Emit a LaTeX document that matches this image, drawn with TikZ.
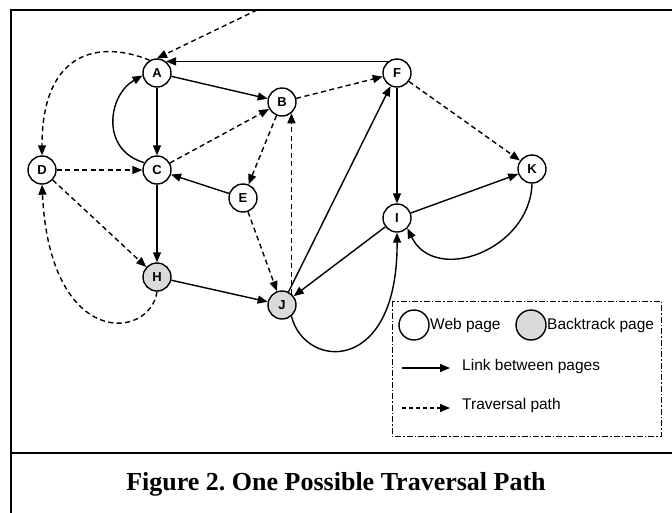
\documentclass[tikz,border=0pt]{standalone}
\usepackage{fontspec}
\setmainfont{Liberation Serif}
\setsansfont{Liberation Sans}
\usetikzlibrary{arrows.meta}
\definecolor{backfill}{RGB}{218,218,218}
\frenchspacing
\tikzset{
  page/.style={circle, draw=black, line width=1.4pt, fill=white, minimum size=28pt,
    inner sep=0pt, font=\sffamily\bfseries\fontsize{13}{13}\selectfont},
  backpage/.style={page, fill=backfill},
  link/.style={line width=1.4pt, -{Triangle[length=10pt,width=8pt]}},
  trav/.style={line width=1.4pt, dash pattern=on 5pt off 3.5pt, -{Triangle[length=10pt,width=8pt]}},
  frameline/.style={line width=2.2pt, line cap=rect},
  legtext/.style={anchor=west, inner sep=0pt, font=\sffamily\fontsize{15.5}{16}\selectfont},
}
\begin{document}
\begin{tikzpicture}[x=1pt, y=-1pt]
\useasboundingbox (0,0) rectangle (672,512);
\fill[white] (0,0) rectangle (672,512);

% frame and caption rule
\begin{scope}
\clip (0,0) rectangle (672,512);
\draw[frameline] (11,520) -- (11,10) -- (680,10);
\draw[frameline] (11,453) -- (680,453);
\end{scope}

% pages
\node[page] (A) at (157,73) {A};
\node[page] (B) at (282,102) {B};
\node[page] (C) at (157,170) {C};
\node[page] (D) at (42,170) {D};
\node[page] (E) at (243,198) {E};
\node[page] (F) at (397,73) {F};
\node[backpage] (H) at (157,277) {H};
\node[backpage] (J) at (282,305) {J};
\node[page] (I) at (397,218) {I};
\node[page] (K) at (532,169) {K};
\coordinate (entry) at (257,10);

% links between pages
\draw[link] (F.128) -- (A.52);
\draw[link] (A) -- (B);
\draw[link] (A) -- (C);
\draw[link] (C.150) .. controls (100,150) and (108,95) .. (A.190);
\draw[link] (E) -- (C);
\draw[link] (C) -- (H);
\draw[link] (H) -- (J);
\draw[link] (J) -- (F);
\draw[link] (I) -- (J);
\draw[link] (J.-50) .. controls (305,370) and (398,375) .. (I.south);
\draw[link] (F) -- (I);
\draw[link] (I) -- (K);
\draw[link] (K.south) .. controls (530,250) and (435,285) .. (I.-45);

% traversal path
\draw[trav] (entry) -- (A.north);
\draw[trav] (A.120) .. controls (100,40) and (42,50) .. (D.north);
\draw[trav] (D) -- (C);
\draw[trav] (D) -- (H);
\draw[trav] (H.south) .. controls (150,340) and (50,350) .. (D.south);
\draw[trav] (C) -- (B);
\draw[trav] (B) -- (E);
\draw[trav] (E) -- (J);
\draw[trav] (J.50) -- (B.-50);
\draw[trav] (B) -- (F);
\draw[trav] (F) -- (K);

% legend
\draw[line width=1pt, dash pattern=on 6pt off 2pt on 1.5pt off 2pt] (392,301) rectangle (661,436);
\node[page, minimum size=30pt] (lw) at (414,325) {};
\node[legtext] (lwt) at (430,325) {Web page};
\node[backpage, minimum size=30pt] (lb) at (531,325) {};
\node[legtext] (lbt) at (547,325) {Backtrack page};
\coordinate (l1a) at (402,368);
\coordinate (l1b) at (450,368);
\draw[link] (l1a) -- (l1b);
\node[legtext] (l1t) at (462,366) {Link between pages};
\coordinate (l2a) at (402,408);
\coordinate (l2b) at (450,408);
\draw[trav, dash pattern=on 4pt off 3pt] (l2a) -- (l2b);
\node[legtext] (l2t) at (462,405) {Traversal path};

% caption
\node[font=\bfseries\fontsize{26}{28}\selectfont] (cap) at (336,484) {Figure 2. One Possible Traversal Path};
\end{tikzpicture}
\end{document}
